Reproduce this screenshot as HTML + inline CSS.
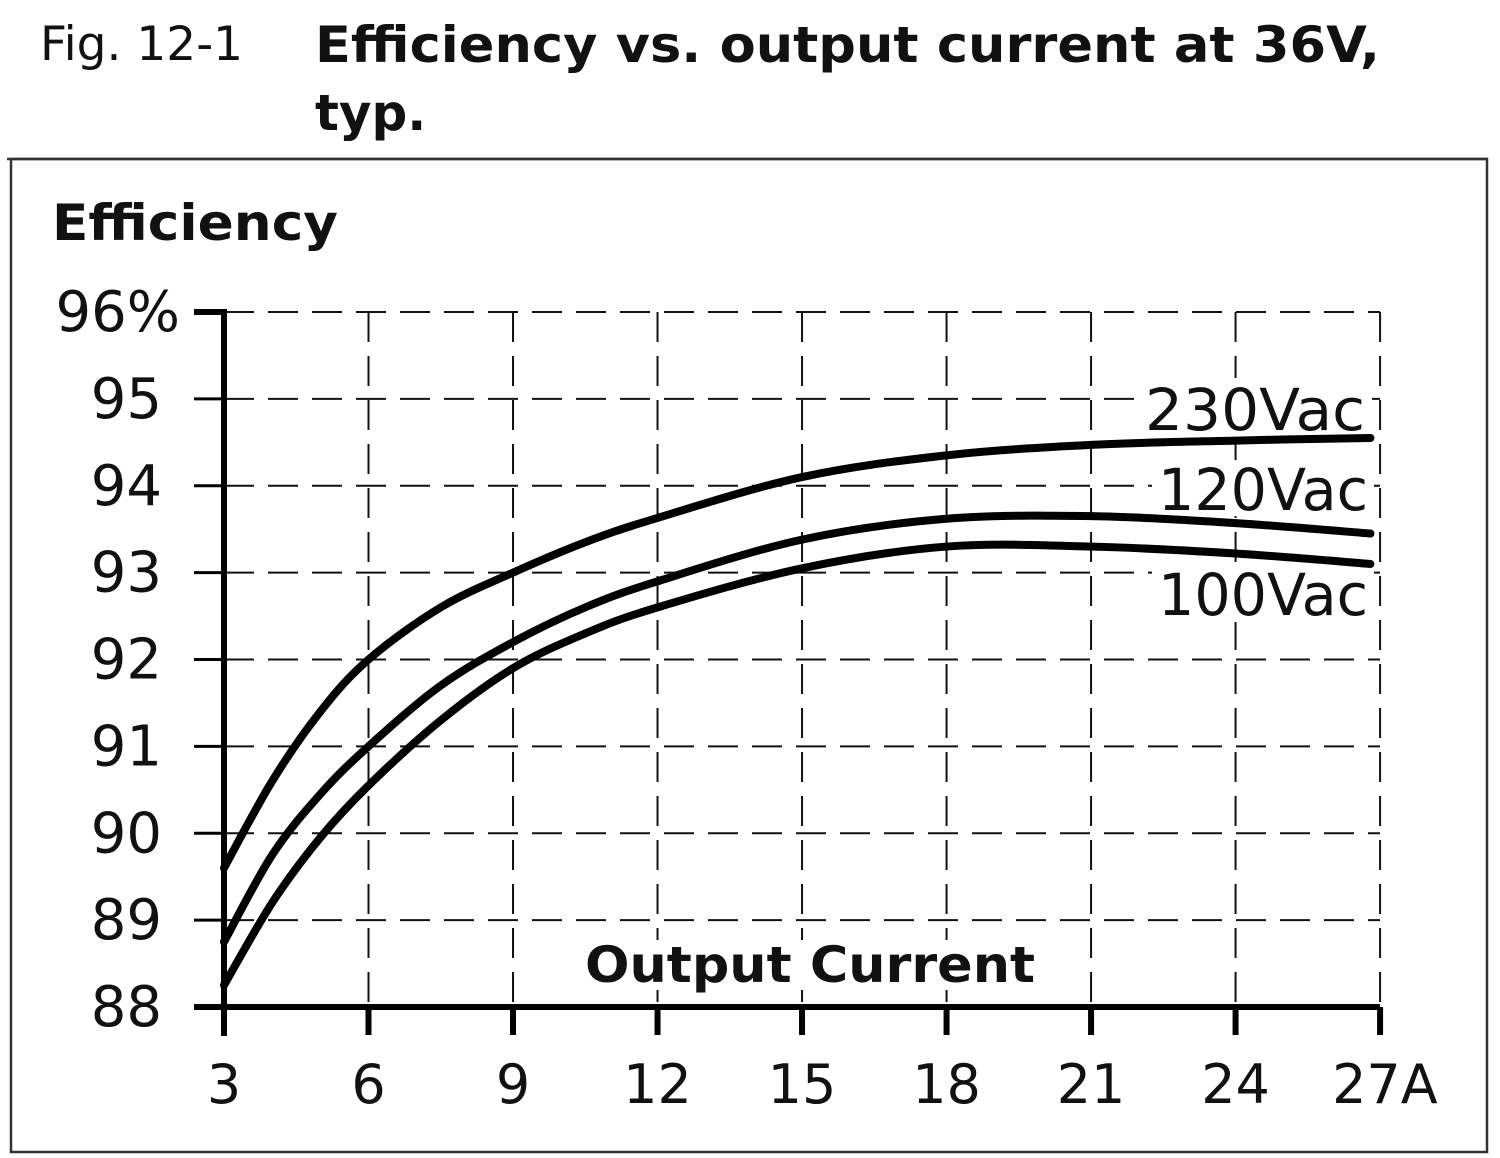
<!DOCTYPE html>
<html><head><meta charset="utf-8"><style>
html,body{margin:0;padding:0;background:#fff}
svg{display:block}
text{font-family:"DejaVu Sans","Liberation Sans",sans-serif;fill:#111}
</style></head><body>
<svg id="s" width="1500" height="1158" viewBox="0 0 1500 1158" xmlns="http://www.w3.org/2000/svg">
<rect x="0" y="0" width="1500" height="1158" fill="#fff"/>
<text x="40" y="60" font-size="47">Fig. 12-1</text>
<text x="315" y="62" font-size="50" font-weight="bold" textLength="1065" lengthAdjust="spacingAndGlyphs">Efficiency vs. output current at 36V,</text>
<text x="315" y="130" font-size="50" font-weight="bold">typ.</text>
<line x1="7" y1="159" x2="1488" y2="159" stroke="#333" stroke-width="2.5"/>
<rect x="11" y="159" width="1476" height="993" fill="none" stroke="#333" stroke-width="2.5"/>
<text x="52" y="240" font-size="50" font-weight="bold" textLength="286" lengthAdjust="spacingAndGlyphs">Efficiency</text>
<g id="grid" stroke="#111" stroke-width="2" stroke-dasharray="30,14" fill="none"></g>
<rect x="1140" y="378" width="232" height="56" fill="#fff"/>
<rect x="1152" y="460" width="222" height="56" fill="#fff"/>
<rect x="1152" y="566" width="222" height="56" fill="#fff"/>
<rect x="580" y="940" width="460" height="50" fill="#fff"/>
<g id="axes" stroke="#000" fill="none"></g>
<g id="lbl"></g>
<g id="curves" stroke="#000" stroke-width="8" fill="none" stroke-linecap="round" stroke-linejoin="round"></g>
<text x="810" y="982" font-size="50" font-weight="bold" text-anchor="middle" textLength="450" lengthAdjust="spacingAndGlyphs">Output Current</text>
<text x="1365" y="430" font-size="58" text-anchor="end" textLength="220" lengthAdjust="spacingAndGlyphs">230Vac</text>
<text x="1368" y="510" font-size="58" text-anchor="end" textLength="210" lengthAdjust="spacingAndGlyphs">120Vac</text>
<text x="1368" y="615" font-size="58" text-anchor="end" textLength="210" lengthAdjust="spacingAndGlyphs">100Vac</text>
</svg>
<script>
const NS="http://www.w3.org/2000/svg";
const X=a=>224+(a-3)*48.17, Y=v=>312+(96-v)*86.875;
function el(p,t,at,txt){const e=document.createElementNS(NS,t);for(const k in at)e.setAttribute(k,at[k]);if(txt)e.textContent=txt;document.getElementById(p).appendChild(e);}
for(let a=6;a<=27;a+=3)el("grid","line",{x1:X(a),y1:312,x2:X(a),y2:1007});
for(let v=89;v<=96;v++)el("grid","line",{x1:224,y1:Y(v),x2:1380,y2:Y(v)});
el("axes","line",{x1:224,y1:309,x2:224,y2:1036,"stroke-width":6});
el("axes","line",{x1:194,y1:1007,x2:1380,y2:1007,"stroke-width":6});
for(let v=88;v<=96;v++)el("axes","line",{x1:194,y1:Y(v),x2:224,y2:Y(v),"stroke-width":v==96||v==88?6:3});
for(let a=6;a<=27;a+=3)el("axes","line",{x1:X(a),y1:1007,x2:X(a),y2:1035,"stroke-width":6});
for(let v=88;v<=96;v++)el("lbl","text",{x:v==96?180:162,y:Y(v)+19,"font-size":56,"text-anchor":"end"},v==96?"96%":String(v));
for(let a=3;a<=27;a+=3)el("lbl","text",{x:X(a),y:1103,"font-size":54,"text-anchor":a==27?"start":"middle",dx:a==27?-48:0},a==27?"27A":String(a));
const A=[3,4,5,6,7.5,9,10.5,12,15,18,21,24,26.8];
const D=[[89.6,90.6,91.4,92.0,92.6,93.0,93.35,93.63,94.1,94.35,94.47,94.52,94.55],
[88.75,89.75,90.45,91.0,91.7,92.2,92.6,92.9,93.38,93.62,93.65,93.57,93.45],
[88.25,89.2,89.95,90.55,91.3,91.9,92.3,92.6,93.05,93.3,93.3,93.22,93.1]];
for(const d of D){const P=A.map((a,i)=>[X(a),Y(d[i])]);let s="M"+P[0];
for(let i=0;i<P.length-1;i++){const p0=P[Math.max(0,i-1)],p1=P[i],p2=P[i+1],p3=P[Math.min(P.length-1,i+2)];
const c1=[p1[0]+(p2[0]-p0[0])/6,p1[1]+(p2[1]-p0[1])/6],c2=[p2[0]-(p3[0]-p1[0])/6,p2[1]-(p3[1]-p1[1])/6];
s+=" C"+c1+" "+c2+" "+p2;}
el("curves","path",{d:s});}
</script>
</body></html>
